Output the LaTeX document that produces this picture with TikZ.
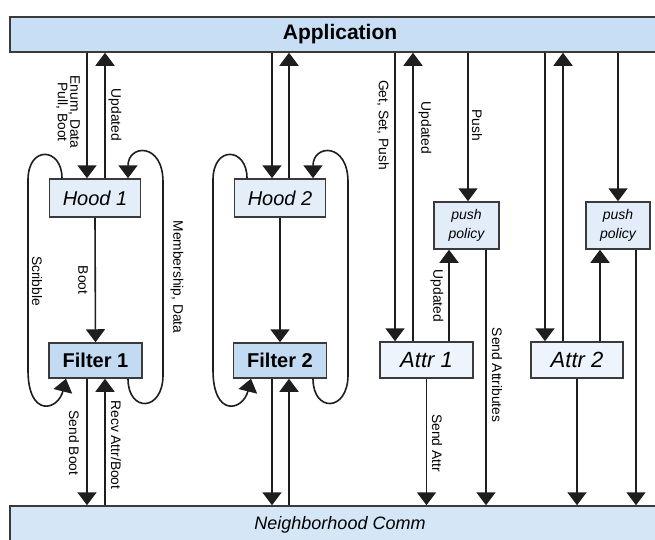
\documentclass[tikz,border=0pt]{standalone}
\usepackage{fontspec}
\setmainfont{Liberation Sans}
\usetikzlibrary{arrows.meta}
\definecolor{barA}{HTML}{C8DEF4}
\definecolor{barN}{HTML}{D5E6F6}
\definecolor{hoodc}{HTML}{E4EEF9}
\definecolor{filtc}{HTML}{C3DBF2}
\definecolor{attrc}{HTML}{EDF4FB}
\definecolor{ppc}{HTML}{E2EDF9}
\definecolor{lc}{HTML}{1E1E1E}
\definecolor{bc}{HTML}{3A3A3A}
\begin{document}
\begin{tikzpicture}[x=1pt,y=-1pt,
  line/.style={draw=lc, line width=1.6pt},
  arr/.style={line, -{Triangle[width=19pt,length=13pt]}},
  box/.style={draw=bc, line width=1.5pt, inner sep=0pt},
  bar/.style={draw=bc, line width=1.5pt, inner sep=0pt, minimum width=660},
  lab/.style={font=\fontsize{13.8}{12.5}\selectfont, rotate=-90, align=center, inner sep=0pt}]
\useasboundingbox (0,0) rectangle (655,539);
\clip (0,0) rectangle (655,539);
\fill[white] (0,0) rectangle (655,539);

% bars
\node[bar, fill=barA, minimum height=35, font=\bfseries\fontsize{21}{21}\selectfont] (app) at (340,34.5) {Application};
\node[bar, fill=barN, minimum height=38, font=\itshape\fontsize{18}{18}\selectfont] (nc) at (340,525) {Neighborhood Comm};

% boxes
\node[box, fill=hoodc, minimum width=91, minimum height=38, font=\itshape\fontsize{20}{20}\selectfont] (h1) at (95,198) {Hood 1};
\node[box, fill=filtc, minimum width=93, minimum height=35, font=\bfseries\fontsize{20}{20}\selectfont] (f1) at (95.5,360.5) {Filter 1};
\node[box, fill=hoodc, minimum width=91, minimum height=38, font=\itshape\fontsize{20}{20}\selectfont] (h2) at (280,198) {Hood 2};
\node[box, fill=filtc, minimum width=93, minimum height=35, font=\bfseries\fontsize{20}{20}\selectfont] (f2) at (280,360.5) {Filter 2};
\node[box, fill=attrc, minimum width=93, minimum height=36, font=\itshape\fontsize{22}{22}\selectfont] (at1) at (426.5,360) {Attr 1};
\node[box, fill=attrc, minimum width=92, minimum height=36, font=\itshape\fontsize{22}{22}\selectfont] (at2) at (577,360) {Attr 2};
\node[box, fill=ppc, minimum width=65, minimum height=47, align=center, font=\itshape\fontsize{14}{19}\selectfont] (pp1) at (466.5,225.5) {push\\policy};
\node[box, fill=ppc, minimum width=64, minimum height=47, align=center, font=\itshape\fontsize{14}{19}\selectfont] (pp2) at (618,225.5) {push\\policy};

% column coordinates
\path (87,0) coordinate (a1) (105,0) coordinate (a2)
      (62,0) coordinate (l1) (66,0) coordinate (l1b) (128,0) coordinate (r1)
      (272,0) coordinate (b1) (289,0) coordinate (b2)
      (247,0) coordinate (l2) (251,0) coordinate (l2b) (313,0) coordinate (r2)
      (395,0) coordinate (c1) (413,0) coordinate (c2) (449,0) coordinate (c3)
      (468,0) coordinate (c4) (486,0) coordinate (c5)
      (545,0) coordinate (d1) (563,0) coordinate (d2) (600,0) coordinate (d3)
      (618,0) coordinate (d4) (636,0) coordinate (d5);

% group 1
\draw[arr] (a1 |- app.south) -- (a1 |- h1.north);
\draw[arr] (a2 |- h1.north) -- (a2 |- app.south);
\draw[arr] (h1.south) -- (f1.north);
\draw[arr] (a1 |- f1.south) -- (a1 |- nc.north);
\draw[arr] (a2 |- nc.north) -- (a2 |- f1.south);
\draw[arr] (l1 |- h1.north) .. controls +(0,-31) and +(0,-35) .. (28,180) -- (28,370)
  .. controls +(0,48) and +(-8,32) .. (l1b |- f1.south);
\draw[arr] (r1 |- f1.south) .. controls +(0,34) and +(0,37) .. (163,375) -- (163,182)
  .. controls +(0,-40) and +(0,-34) .. (r1 |- h1.north);

% group 2
\draw[arr] (b1 |- app.south) -- (b1 |- h2.north);
\draw[arr] (b2 |- h2.north) -- (b2 |- app.south);
\draw[arr] (h2.south) -- (f2.north);
\draw[arr] (b1 |- f2.south) -- (b1 |- nc.north);
\draw[arr] (b2 |- nc.north) -- (b2 |- f2.south);
\draw[arr] (l2 |- h2.north) .. controls +(0,-31) and +(0,-35) .. (213,180) -- (213,370)
  .. controls +(0,48) and +(-8,32) .. (l2b |- f2.south);
\draw[arr] (r2 |- f2.south) .. controls +(0,34) and +(0,37) .. (348,375) -- (348,182)
  .. controls +(0,-40) and +(0,-34) .. (r2 |- h2.north);

% attr 1
\draw[arr] (c1 |- app.south) -- (c1 |- at1.north);
\draw[arr] (c2 |- at1.north) -- (c2 |- app.south);
\draw[arr] (c3 |- at1.north) -- (c3 |- pp1.south);
\draw[arr] (c4 |- app.south) -- (c4 |- pp1.north);
\draw[arr] (c5 |- pp1.south) -- (c5 |- nc.north);
\draw[arr] (at1.south) -- (at1.south |- nc.north);

% attr 2
\draw[arr] (d1 |- app.south) -- (d1 |- at2.north);
\draw[arr] (d2 |- at2.north) -- (d2 |- app.south);
\draw[arr] (d3 |- at2.north) -- (d3 |- pp2.south);
\draw[arr] (d4 |- app.south) -- (d4 |- pp2.north);
\draw[arr] (d5 |- pp2.south) -- (d5 |- nc.north);
\draw[arr] (at2.south) -- (at2.south |- nc.north);

% labels
\node[lab] (t1) at (68,112) {Enum, Data\\Pull, Boot};
\node[lab] (t2) at (115,115) {Updated};
\node[lab] (lb) at (83,280) {Boot};
\node[lab] (ls) at (37,281) {Scribble};
\node[lab] (lm) at (177,277) {Membership, Data};
\node[lab] (lsb) at (74,443) {Send Boot};
\node[lab] (lr) at (116,445) {Recv Attr/Boot};
\node[lab] (lg) at (383,125) {Get, Set, Push};
\node[lab] (lu) at (425,128) {Updated};
\node[lab] (lp) at (477,125) {Push};
\node[lab] (lu2) at (437,296) {Updated};
\node[lab] (lsa) at (497,375) {Send Attributes};
\node[lab] (lsa2) at (437,443) {Send Attr};
\end{tikzpicture}
\end{document}
